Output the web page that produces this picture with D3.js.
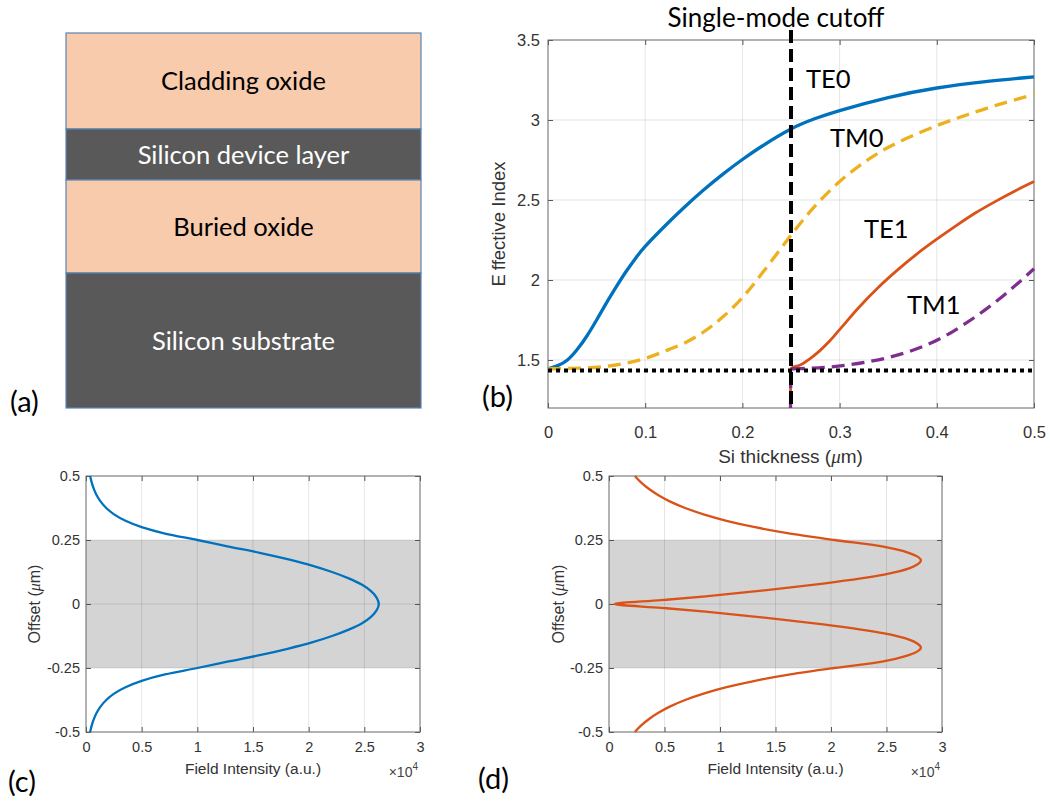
<!DOCTYPE html>
<html>
<head>
<meta charset="utf-8">
<script src="https://cdn.jsdelivr.net/npm/d3@7"></script>
<style>
  body { margin: 0; background: #fff; }
  svg { display: block; }
</style>
</head>
<body>
<svg id="fig" width="1050" height="803"></svg>
<script>
// ---------- (a) SOI layer stack ----------
const layerNames = ["Cladding oxide", "Silicon device layer", "Buried oxide", "Silicon substrate"];
const layerMaterial = ["oxide", "silicon", "oxide", "silicon"];
const layerWeight = [96, 51, 93, 135];   // relative drawn thickness of each layer

// ---------- (b) effective index vs Si thickness ----------
const te0Thickness = [0, 0.01, 0.02, 0.03, 0.04, 0.05, 0.06, 0.07, 0.08, 0.09, 0.10, 0.12, 0.14, 0.16, 0.18, 0.20, 0.22, 0.25, 0.275, 0.30, 0.35, 0.40, 0.45, 0.50];
const te0Index     = [1.445, 1.465, 1.50, 1.565, 1.65, 1.75, 1.855, 1.955, 2.05, 2.135, 2.21, 2.336, 2.453, 2.562, 2.662, 2.753, 2.836, 2.944, 3.009, 3.059, 3.14, 3.20, 3.24, 3.27];

const tm0Thickness = [0, 0.02, 0.04, 0.06, 0.08, 0.10, 0.12, 0.14, 0.16, 0.18, 0.20, 0.22, 0.24, 0.25, 0.27, 0.30, 0.33, 0.36, 0.40, 0.43, 0.46, 0.50];
const tm0Index     = [1.445, 1.447, 1.45, 1.46, 1.48, 1.51, 1.555, 1.605, 1.675, 1.77, 1.89, 2.04, 2.20, 2.28, 2.43, 2.615, 2.755, 2.86, 2.965, 3.03, 3.09, 3.16];

const te1Thickness = [0.2495, 0.25, 0.26, 0.27, 0.28, 0.29, 0.30, 0.32, 0.34, 0.36, 0.38, 0.40, 0.42, 0.44, 0.46, 0.48, 0.50];
const te1Index     = [1.30, 1.447, 1.47, 1.51, 1.56, 1.62, 1.69, 1.83, 1.955, 2.065, 2.165, 2.255, 2.34, 2.42, 2.49, 2.555, 2.615];

const tm1Thickness = [0.2495, 0.25, 0.27, 0.29, 0.31, 0.33, 0.35, 0.37, 0.39, 0.41, 0.43, 0.45, 0.47, 0.49, 0.50];
const tm1Index     = [1.20, 1.445, 1.448, 1.456, 1.47, 1.49, 1.515, 1.55, 1.595, 1.655, 1.73, 1.815, 1.91, 2.015, 2.07];

const cutoffThickness = 0.25;
const claddingIndex = 1.435;

const modeNames = ["TE0", "TM0", "TE1", "TM1"];
const bXTicks = [0, 0.1, 0.2, 0.3, 0.4, 0.5];
const bXTickLabels = ["0", "0.1", "0.2", "0.3", "0.4", "0.5"];
const bYTicks = [1.5, 2, 2.5, 3, 3.5];
const bYTickLabels = ["1.5", "2", "2.5", "3", "3.5"];

// ---------- (c), (d) field intensity profiles (x 10^4) ----------
const te0ProfileOffset = [0.5, 0.475, 0.45, 0.425, 0.4, 0.375, 0.35, 0.325, 0.3, 0.275, 0.25, 0.225, 0.2, 0.175, 0.15, 0.125, 0.1, 0.075, 0.05, 0.025, 0,
  -0.025, -0.05, -0.075, -0.1, -0.125, -0.15, -0.175, -0.2, -0.225, -0.25, -0.275, -0.3, -0.325, -0.35, -0.375, -0.4, -0.425, -0.45, -0.475, -0.5];
const te0ProfileIntensity = [0.037, 0.051, 0.07, 0.096, 0.132, 0.182, 0.252, 0.355, 0.50, 0.71, 1.00, 1.27, 1.56, 1.81, 2.03, 2.21, 2.36, 2.48, 2.56, 2.61, 2.63,
  2.61, 2.56, 2.48, 2.36, 2.21, 2.03, 1.81, 1.56, 1.27, 1.00, 0.71, 0.50, 0.355, 0.252, 0.182, 0.132, 0.096, 0.07, 0.051, 0.037];

const te1ProfileOffset = [0.5, 0.475, 0.45, 0.425, 0.4, 0.375, 0.35, 0.325, 0.3, 0.275, 0.25, 0.225, 0.2, 0.185, 0.17, 0.155, 0.14, 0.115, 0.1, 0.08, 0.06, 0.045, 0.03, 0.015, 0,
  -0.015, -0.03, -0.045, -0.06, -0.08, -0.1, -0.115, -0.14, -0.155, -0.17, -0.185, -0.2, -0.225, -0.25, -0.275, -0.3, -0.325, -0.35, -0.375, -0.4, -0.425, -0.45, -0.475, -0.5];
const te1ProfileIntensity = [0.232, 0.288, 0.358, 0.445, 0.552, 0.686, 0.852, 1.059, 1.315, 1.634, 2.03, 2.46, 2.70, 2.78, 2.81, 2.78, 2.71, 2.48, 2.27, 1.93, 1.54, 1.22, 0.87, 0.47, 0.05,
  0.47, 0.87, 1.22, 1.54, 1.93, 2.27, 2.48, 2.71, 2.78, 2.81, 2.78, 2.70, 2.46, 2.03, 1.634, 1.315, 1.059, 0.852, 0.686, 0.552, 0.445, 0.358, 0.288, 0.232];

const coreHalfWidth = 0.25;
const profXTicks = [0, 0.5, 1, 1.5, 2, 2.5, 3];
const profXTickLabels = ["0", "0.5", "1", "1.5", "2", "2.5", "3"];
const profYTicks = [-0.5, -0.25, 0, 0.25, 0.5];
const profYTickLabels = ["-0.5", "-0.25", "0", "0.25", "0.5"];

// ---------- drawing ----------
const svg = d3.select("#fig");
const AXF = "'Liberation Sans', Arial, Helvetica, sans-serif";
const TXF = "Lato, 'Open Sans', sans-serif";
const C = { blue: "#0072BD", orange: "#D95319", yellow: "#EDB120", purple: "#7E2F8E" };

function panelLetter(txt, x, y) {
  svg.append("text").attr("x", x).attr("y", y).attr("font-family", TXF)
    .attr("font-size", 29).attr("fill", "#000").text(txt);
}

// (a) layer stack
{
  const ys = d3.scaleLinear().domain([0, d3.sum(layerWeight)]).range([33, 408]);
  const cum = [0, ...d3.cumsum(layerWeight)];
  const g = svg.append("g");
  layerNames.forEach((name, i) => {
    const y0 = ys(cum[i]), y1 = ys(cum[i + 1]);
    g.append("rect").attr("x", 66).attr("y", y0).attr("width", 355).attr("height", y1 - y0)
      .attr("fill", layerMaterial[i] === "oxide" ? "#F8CBAD" : "#595959")
      .attr("stroke", "#5b84b1").attr("stroke-width", 1.2);
    g.append("text").attr("x", 243.5).attr("y", (y0 + y1) / 2).attr("dy", "0.36em")
      .attr("text-anchor", "middle").attr("font-family", TXF).attr("font-size", 25.5)
      .attr("fill", layerMaterial[i] === "oxide" ? "#000" : "#fff").text(name);
  });
  panelLetter("(a)", 10, 412);
}

// shared axes frame: grid, inward ticks on all sides, tick labels, box
function frame(g, x, y, xt, xl, yt, yl, fs, padX, padY) {
  const [x0, x1] = x.range(), [y1, y0] = y.range();
  g.append("g").selectAll("line").data(xt.slice(1, -1)).join("line")
    .attr("x1", d => x(d)).attr("x2", d => x(d)).attr("y1", y0).attr("y2", y1)
    .attr("stroke", "#000").attr("stroke-opacity", 0.1).attr("stroke-width", 1);
  g.append("g").selectAll("line").data(yt.filter(v => v > y.domain()[0] && v < y.domain()[1])).join("line")
    .attr("x1", x0).attr("x2", x1).attr("y1", d => y(d)).attr("y2", d => y(d))
    .attr("stroke", "#000").attr("stroke-opacity", 0.1).attr("stroke-width", 1);

  const ax = g.append("g").attr("transform", `translate(0,${y1})`)
    .call(d3.axisBottom(x).tickValues(xt).tickFormat((d, i) => xl[i]).tickSizeInner(-5).tickSizeOuter(0).tickPadding(padX));
  const ay = g.append("g").attr("transform", `translate(${x0},0)`)
    .call(d3.axisLeft(y).tickValues(yt).tickFormat((d, i) => yl[i]).tickSizeInner(-5).tickSizeOuter(0).tickPadding(padY));
  const axT = g.append("g").attr("transform", `translate(0,${y0})`)
    .call(d3.axisTop(x).tickValues(xt).tickFormat("").tickSizeInner(-5).tickSizeOuter(0));
  const ayR = g.append("g").attr("transform", `translate(${x1},0)`)
    .call(d3.axisRight(y).tickValues(yt).tickFormat("").tickSizeInner(-5).tickSizeOuter(0));
  [ax, ay, axT, ayR].forEach(a => {
    a.select(".domain").remove();
    a.selectAll(".tick line").attr("stroke", "#555").attr("stroke-width", 1);
    a.selectAll(".tick text").attr("font-family", AXF).attr("font-size", fs).attr("fill", "#333");
  });
  g.append("rect").attr("x", x0).attr("y", y0).attr("width", x1 - x0).attr("height", y1 - y0)
    .attr("fill", "none").attr("stroke", "#666").attr("stroke-width", 1);
}

// (b) effective index
{
  const x = d3.scaleLinear().domain([0, 0.5]).range([548, 1034]);
  const y = d3.scaleLinear().domain([1.2, 3.5]).range([408, 40]);
  const g = svg.append("g");
  frame(g, x, y, bXTicks, bXTickLabels, bYTicks, bYTickLabels, 16.5, 18, 8);

  const smooth = d3.line().x(d => x(d[0])).y(d => y(d[1])).curve(d3.curveNatural);
  const mono = d3.line().x(d => x(d[0])).y(d => y(d[1])).curve(d3.curveMonotoneX);
  const modes = [
    { t: te0Thickness, n: te0Index, color: C.blue, w: 3.3, dash: null, line: smooth },
    { t: tm0Thickness, n: tm0Index, color: C.yellow, w: 3.3, dash: "13,7", line: smooth },
    { t: te1Thickness, n: te1Index, color: C.orange, w: 2.8, dash: null, line: mono },
    { t: tm1Thickness, n: tm1Index, color: C.purple, w: 3.3, dash: "13,7", line: mono }
  ];
  modes.forEach(m => {
    g.append("path").datum(m.t.map((v, i) => [v, m.n[i]]))
      .attr("d", m.line).attr("fill", "none").attr("stroke", m.color)
      .attr("stroke-width", m.w).attr("stroke-dasharray", m.dash);
  });

  // cladding light line and single-mode cutoff
  g.append("line").attr("x1", x(0)).attr("x2", x(0.5)).attr("y1", y(claddingIndex)).attr("y2", y(claddingIndex))
    .attr("stroke", "#000").attr("stroke-width", 4).attr("stroke-dasharray", "4,4");
  g.append("line").attr("x1", x(cutoffThickness)).attr("x2", x(cutoffThickness)).attr("y1", 30).attr("y2", y(1.2))
    .attr("stroke", "#000").attr("stroke-width", 4).attr("stroke-dasharray", "13,6");

  g.append("text").attr("x", 776).attr("y", 27).attr("text-anchor", "middle")
    .attr("font-family", TXF).attr("font-size", 26).attr("fill", "#000").text("Single-mode cutoff");

  const labelPos = [[806, 88], [830, 147], [864, 238], [907, 314]];
  modeNames.forEach((m, i) => {
    g.append("text").attr("x", labelPos[i][0]).attr("y", labelPos[i][1])
      .attr("font-family", TXF).attr("font-size", 25.5).attr("fill", "#000").text(m);
  });

  const xl = g.append("text").attr("x", 790.5).attr("y", 463).attr("text-anchor", "middle")
    .attr("font-family", AXF).attr("font-size", 19).attr("fill", "#333");
  xl.append("tspan").text("Si thickness (");
  xl.append("tspan").attr("font-style", "italic").attr("font-family", "'Liberation Serif', serif").text("μ");
  xl.append("tspan").text("m)");
  const yl = g.append("text").attr("transform", "translate(505,224) rotate(-90)").attr("text-anchor", "middle")
    .attr("font-family", AXF).attr("font-size", 18.5).attr("fill", "#333");
  yl.append("tspan").text("E");
  yl.append("tspan").attr("dx", 4).text("ffective Index");

  panelLetter("(b)", 482, 407);
}

// (c), (d) mode profiles
function profile(x0, x1, offs, vals, color, ylabX) {
  const x = d3.scaleLinear().domain([0, 3]).range([x0, x1]);
  const y = d3.scaleLinear().domain([-0.5, 0.5]).range([732, 476]);
  const g = svg.append("g");
  g.append("rect").attr("x", x0).attr("y", y(coreHalfWidth)).attr("width", x1 - x0)
    .attr("height", y(-coreHalfWidth) - y(coreHalfWidth)).attr("fill", "#d4d4d4");
  frame(g, x, y, profXTicks, profXTickLabels, profYTicks, profYTickLabels, 14.5, 10, 6);

  const line = d3.line().x(d => x(d[1])).y(d => y(d[0])).curve(d3.curveMonotoneY);
  g.append("path").datum(offs.map((o, i) => [o, vals[i]]))
    .attr("d", line).attr("fill", "none").attr("stroke", color).attr("stroke-width", 2.3);

  g.append("text").attr("x", (x0 + x1) / 2).attr("y", 774).attr("text-anchor", "middle")
    .attr("font-family", AXF).attr("font-size", 15.5).attr("fill", "#333").text("Field Intensity (a.u.)");
  const ex = g.append("text").attr("x", x1 - 2).attr("y", 777).attr("text-anchor", "end")
    .attr("font-family", AXF).attr("font-size", 14).attr("fill", "#444");
  ex.append("tspan").text("×10");
  ex.append("tspan").attr("font-size", 10).attr("dy", -7).text("4");

  const yl = g.append("text").attr("transform", `translate(${ylabX},604) rotate(-90)`).attr("text-anchor", "middle")
    .attr("font-family", AXF).attr("font-size", 16).attr("fill", "#333");
  yl.append("tspan").text("Offset (");
  yl.append("tspan").attr("font-style", "italic").attr("font-family", "'Liberation Serif', serif").text("μ");
  yl.append("tspan").text("m)");
}
profile(86, 420, te0ProfileOffset, te0ProfileIntensity, C.blue, 40);
profile(609, 942, te1ProfileOffset, te1ProfileIntensity, C.orange, 564);
panelLetter("(c)", 8, 792);
panelLetter("(d)", 478, 789);
</script>
</body>
</html>
